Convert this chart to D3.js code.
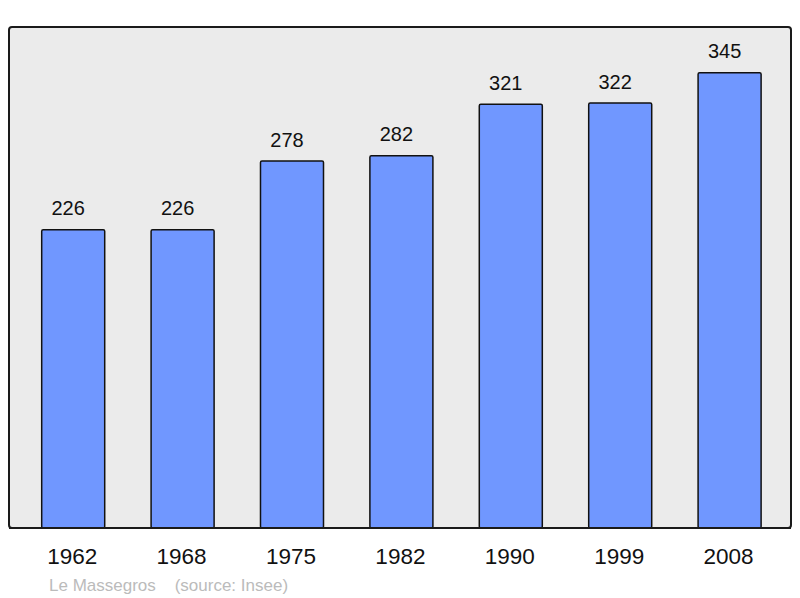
<!DOCTYPE html>
<html><head><meta charset="utf-8">
<script src="https://cdn.jsdelivr.net/npm/d3@7"></script>
<style>html,body{margin:0;padding:0;background:#fff}svg{display:block}</style>
</head><body>
<script>
const years = ["1962","1968","1975","1982","1990","1999","2008"];
const population = [226,226,278,282,321,322,345];
const caption = "Le Massegros    (source: Insee)";

const W = 800, H = 598;
const svg = d3.select("body").append("svg").attr("width", W).attr("height", H);

const panel = {x: 9, y: 27, w: 782, h: 501};
svg.append("rect").attr("x", panel.x).attr("y", panel.y).attr("width", panel.w).attr("height", panel.h)
  .attr("rx", 3).attr("fill", "#ebebeb").attr("stroke", "#1a1a1a").attr("stroke-width", 2);

const x = d3.scaleBand().domain(years).range([18.5, 784.3]).paddingInner(0.424).paddingOuter(0.212);
const y = d3.scaleLinear().domain([0, 379.6]).range([528, 27]);

svg.selectAll("rect.bar").data(population).enter().append("rect").attr("class","bar")
  .attr("x", (d,i) => x(years[i]))
  .attr("y", d => y(d))
  .attr("width", x.bandwidth())
  .attr("height", d => y(0) - y(d))
  .attr("rx", 1.5)
  .attr("fill", "#7097ff").attr("stroke", "#111").attr("stroke-width", 1.5);

svg.append("line").attr("x1", panel.x).attr("x2", panel.x + panel.w).attr("y1", 528).attr("y2", 528)
  .attr("stroke", "#1a1a1a").attr("stroke-width", 2);

svg.selectAll("text.val").data(population).enter().append("text").attr("class","val")
  .attr("x", (d,i) => x(years[i]) + x.bandwidth()/2 - 5)
  .attr("y", d => y(d) - 14.5)
  .attr("text-anchor", "middle")
  .attr("font-family", "Liberation Sans, Arial, sans-serif").attr("font-size", 20)
  .attr("fill", "#111").text(d => d);

const xAxis = d3.axisBottom(x).tickSize(0).tickPadding(0);
const gx = svg.append("g").attr("transform", "translate(-1,548.5)").call(xAxis);
gx.select(".domain").remove();
gx.selectAll("text").attr("font-family", "Liberation Sans, Arial, sans-serif").attr("font-size", 22.5)
  .attr("fill", "#111").attr("dy", "0.71em").attr("y", 0);

svg.append("text").attr("x", 49).attr("y", 590.5)
  .attr("font-family", "Liberation Sans, Arial, sans-serif").attr("font-size", 17)
  .attr("fill", "#bbbbbb").attr("xml:space", "preserve").style("white-space", "pre").text(caption);
</script>
</body></html>
